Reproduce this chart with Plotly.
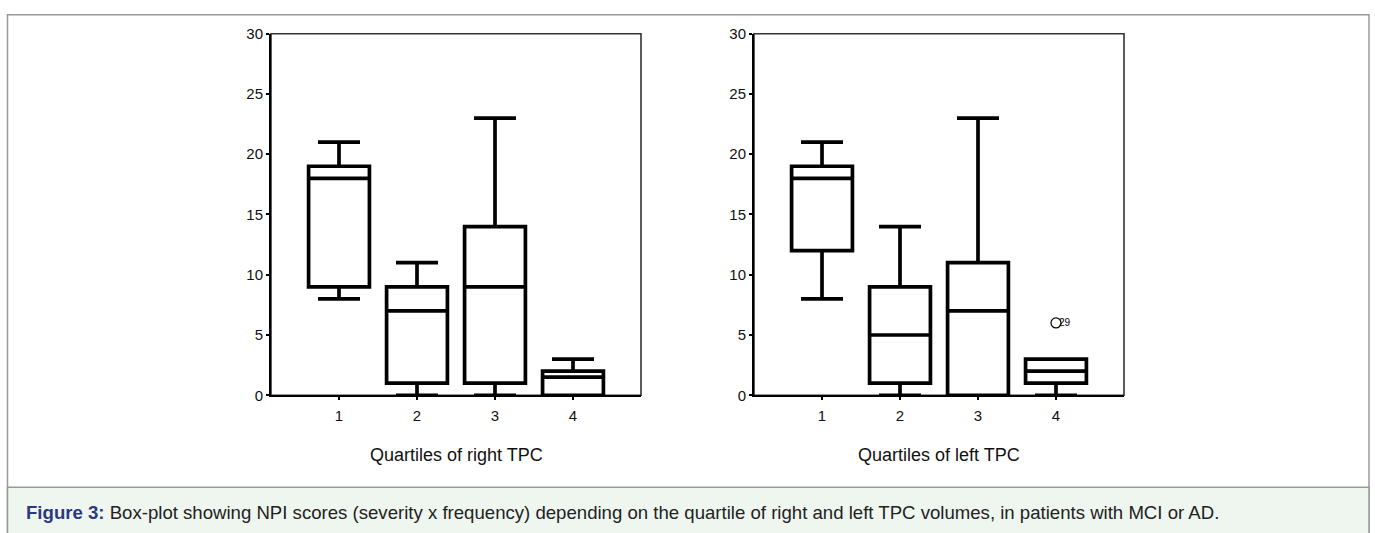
import plotly.graph_objects as go

# ---- data ----
categories = [1, 2, 3, 4]
tick_labels = ["1", "2", "3", "4"]

right_low = [8, 0, 0, 0]
right_q1 = [9, 1, 1, 0]
right_med = [18, 7, 9, 1.5]
right_q3 = [19, 9, 14, 2]
right_high = [21, 11, 23, 3]

left_low = [8, 0, 0, 0]
left_q1 = [12, 1, 0, 1]
left_med = [18, 5, 7, 2]
left_q3 = [19, 9, 11, 3]
left_high = [21, 14, 23, 3]

outlier_x = [4]
outlier_y = [6]
outlier_label = ["29"]

y_ticks = [0, 5, 10, 15, 20, 25, 30]

W, H = 1375, 533


def px_x(p):
    return p / W


def px_y(p):
    return (H - p) / H


FONT = "Liberation Sans, Arial, sans-serif"

fig = go.Figure()

box_style = dict(
    width=0.78,
    whiskerwidth=0.69,
    line=dict(color="black", width=3.7),
    fillcolor="white",
    boxpoints=False,
    showlegend=False,
    hoverinfo="skip",
)

fig.add_trace(go.Box(x=categories, q1=right_q1, median=right_med, q3=right_q3,
                     lowerfence=right_low, upperfence=right_high,
                     xaxis="x", yaxis="y", **box_style))
fig.add_trace(go.Box(x=categories, q1=left_q1, median=left_med, q3=left_q3,
                     lowerfence=left_low, upperfence=left_high,
                     xaxis="x2", yaxis="y2", **box_style))

fig.add_trace(go.Scatter(x=outlier_x, y=outlier_y, mode="markers",
                         marker=dict(symbol="circle-open", size=10,
                                     color="black", line=dict(width=1.2)),
                         xaxis="x2", yaxis="y2", showlegend=False,
                         hoverinfo="skip", cliponaxis=False))

for xv, yv, t in zip(outlier_x, outlier_y, outlier_label):
    fig.add_annotation(x=xv, y=yv, xref="x2", yref="y2", text=t,
                       showarrow=False, xanchor="left", xshift=1,
                       font=dict(family=FONT, size=10, color="black"))

xdom1 = [px_x(271), px_x(641)]
xdom2 = [px_x(754), px_x(1124)]
ydom = [px_y(399), px_y(25.5)]

xaxis_common = dict(range=[0.128, 4.872], tickmode="array", tickvals=categories,
                    ticktext=tick_labels, showgrid=False, zeroline=False,
                    showline=True, linecolor="black", linewidth=2,
                    ticks="outside", ticklen=3, tickwidth=2, tickcolor="black",
                    ticklabelstandoff=3,
                    tickfont=dict(family=FONT, size=15, color="#111"),
                    fixedrange=True)
yaxis_common = dict(range=[0, 30], tickmode="array", tickvals=y_ticks,
                    showgrid=False, zeroline=False, domain=ydom,
                    showline=True, linecolor="black", linewidth=2,
                    ticks="outside", ticklen=3, tickwidth=2, tickcolor="black",
                    tickfont=dict(family=FONT, size=15, color="#111"),
                    fixedrange=True)

fig.update_layout(
    width=W, height=H,
    margin=dict(l=0, r=0, t=0, b=0),
    paper_bgcolor="white", plot_bgcolor="white",
    hovermode=False,
    xaxis=dict(domain=xdom1, anchor="y", **xaxis_common),
    yaxis=dict(anchor="x", **yaxis_common),
    xaxis2=dict(domain=xdom2, anchor="y2", **xaxis_common),
    yaxis2=dict(anchor="x2", **yaxis_common),
)

shapes = []
# outer border
shapes.append(dict(type="rect", xref="paper", yref="paper",
                   x0=px_x(7.5), x1=px_x(1369), y0=px_y(545), y1=px_y(6),
                   line=dict(color="#999999", width=1.5), fillcolor="white",
                   layer="below"))
# caption box
shapes.append(dict(type="rect", xref="paper", yref="paper",
                   x0=px_x(7.5), x1=px_x(1369), y0=px_y(545), y1=px_y(494),
                   line=dict(color="#999999", width=1.5), fillcolor="#eff6ef",
                   layer="below"))
# plot frames (top/right)
for dom in (xdom1, xdom2):
    shapes.append(dict(type="rect", xref="paper", yref="paper",
                       x0=dom[0], x1=dom[1], y0=ydom[0], y1=ydom[1],
                       line=dict(color="#333333", width=1.6),
                       layer="below"))
fig.update_layout(shapes=shapes)

# axis titles
fig.add_annotation(x=(xdom1[0] + xdom1[1]) / 2, y=px_y(461), xref="paper", yref="paper",
                   xanchor="center", yanchor="middle",
                   text="Quartiles of right TPC", showarrow=False,
                   font=dict(family=FONT, size=18, color="#111"))
fig.add_annotation(x=(xdom2[0] + xdom2[1]) / 2, y=px_y(461), xref="paper", yref="paper",
                   xanchor="center", yanchor="middle",
                   text="Quartiles of left TPC", showarrow=False,
                   font=dict(family=FONT, size=18, color="#111"))

# caption
fig.add_annotation(x=px_x(24), y=px_y(520), xref="paper", yref="paper",
                   xanchor="left", yanchor="middle", showarrow=False,
                   text="<span style='color:#2b3a80'><b>Figure 3:</b></span> "
                        "Box-plot showing NPI scores (severity x frequency) depending on the "
                        "quartile of right and left TPC volumes, in patients with MCI or AD.",
                   font=dict(family=FONT, size=18.6, color="#222"))

fig.write_html("out.html",
               config={"displayModeBar": False, "staticPlot": True},
               post_script="document.body.style.margin='0';document.body.style.overflow='hidden';")
